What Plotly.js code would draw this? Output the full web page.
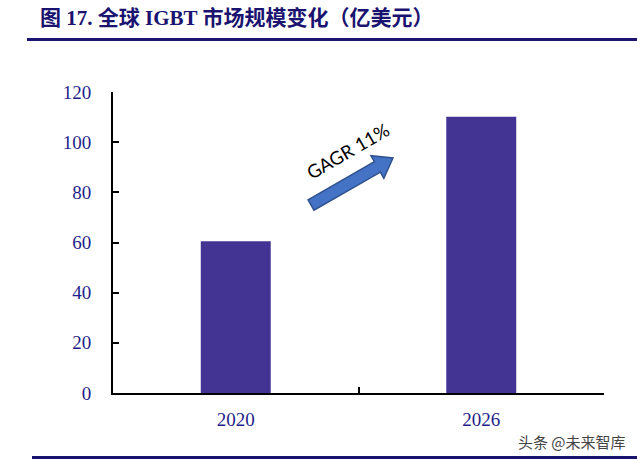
<!DOCTYPE html>
<html>
<head>
<meta charset="utf-8">
<script src="https://cdn.plot.ly/plotly-3.0.1.min.js"></script>
<style>html,body{margin:0;padding:0;background:#fff;}#chart{width:637px;height:464px;}</style>
</head>
<body>
<div id="chart"></div>
<script>
// ---- data ----
const years = ["2020", "2026"];
const marketSize = [60.5, 110.1];
const valueLabels = ["60.5", "110.1"];
const yTicks = [0, 20, 40, 60, 80, 100, 120];
const chartTitle = "图 17. 全球 IGBT 市场规模变化（亿美元）";
const cagrText = "GAGR 11%";
const sourceText = "头条 @未来智库";

// ---- layout constants ----
const W = 637, H = 464;
const M = {l: 113, r: 33, t: 92, b: 71};
const PW = W - M.l - M.r, PH = H - M.t - M.b;
const px = x => (x - M.l) / PW;          // pixel -> paper x
const py = y => (M.t + PH - y) / PH;      // pixel -> paper y
const navy = "#1f1f8a";
const serif = "Liberation Serif, Times New Roman, serif";

const trace = {
  type: "bar",
  x: years,
  y: marketSize,
  width: 0.285,
  marker: {color: "#433494", line: {width: 0}},
  hoverinfo: "skip"
};

const annotations = years.map((yr, i) => ({
  x: yr, y: marketSize[i], xref: "x", yref: "y",
  text: valueLabels[i], showarrow: false,
  yanchor: "bottom", yshift: 12,
  font: {family: serif, size: 19, color: navy}
}));

annotations.push({
  xref: "paper", yref: "paper", x: px(348), y: py(151),
  text: cagrText, showarrow: false, textangle: -30,
  xanchor: "center", yanchor: "middle",
  font: {family: "Lato, Open Sans, sans-serif", size: 18.5, color: "#000"}
});
annotations.push({
  xref: "paper", yref: "paper", x: px(628), y: py(441),
  text: sourceText, showarrow: false,
  xanchor: "right", yanchor: "middle",
  font: {family: "Noto Sans CJK SC, sans-serif", size: 15, color: "#444"}
});

// block arrow (decoration), built in pixel space then converted to paper
const T = [311, 205], tip = [393, 158];
const dx = tip[0] - T[0], dy = tip[1] - T[1];
const len = Math.hypot(dx, dy);
const u = [dx / len, dy / len], n = [-u[1], u[0]];
const hl = 18, sw = 6, hw = 13;
const Hb = [tip[0] - hl * u[0], tip[1] - hl * u[1]];
const pts = [
  [T[0] - sw * n[0], T[1] - sw * n[1]],
  [Hb[0] - sw * n[0], Hb[1] - sw * n[1]],
  [Hb[0] - hw * n[0], Hb[1] - hw * n[1]],
  tip,
  [Hb[0] + hw * n[0], Hb[1] + hw * n[1]],
  [Hb[0] + sw * n[0], Hb[1] + sw * n[1]],
  [T[0] + sw * n[0], T[1] + sw * n[1]]
];
const path = "M" + pts.map(p => px(p[0]).toFixed(5) + "," + py(p[1]).toFixed(5)).join(" L") + " Z";

const shapes = [
  {type: "path", xref: "paper", yref: "paper", path: path,
   fillcolor: "#4472C4", line: {color: "#2F528F", width: 1.5}},
  {type: "line", xref: "paper", yref: "paper", x0: px(27), x1: px(637), y0: py(39.5), y1: py(39.5),
   line: {color: "#1a1370", width: 3}},
  {type: "line", xref: "paper", yref: "paper", x0: px(32), x1: px(637), y0: py(457.5), y1: py(457.5),
   line: {color: "#1a1370", width: 3}}
];

const layout = {
  width: W, height: H,
  margin: M,
  paper_bgcolor: "#fff", plot_bgcolor: "#fff",
  showlegend: false,
  title: {
    text: chartTitle, xref: "container", yref: "container",
    x: 40 / W, xanchor: "left", y: 1 - 18 / H, yanchor: "middle",
    font: {family: "Liberation Serif, Noto Sans CJK SC, serif", size: 21, color: "#1a1370", weight: "bold"}
  },
  xaxis: {
    type: "category", range: [-0.5, 1.5],
    showline: true, linecolor: "#000", linewidth: 2,
    ticks: "inside", tickson: "boundaries", ticklen: 6, tickwidth: 2, tickcolor: "#000",
    ticklabelstandoff: 8,
    tickfont: {family: serif, size: 19, color: navy},
    showgrid: false, zeroline: false, fixedrange: true
  },
  yaxis: {
    range: [0, 120], tickvals: yTicks,
    showline: true, linecolor: "#000", linewidth: 2,
    ticks: "inside", ticklen: 6, tickwidth: 2, tickcolor: "#000",
    ticklabelstandoff: 16,
    tickfont: {family: serif, size: 19, color: navy},
    showgrid: false, zeroline: false, fixedrange: true
  },
  annotations: annotations,
  shapes: shapes
};

Plotly.newPlot("chart", [trace], layout, {displayModeBar: false, staticPlot: true});
</script>
</body>
</html>
